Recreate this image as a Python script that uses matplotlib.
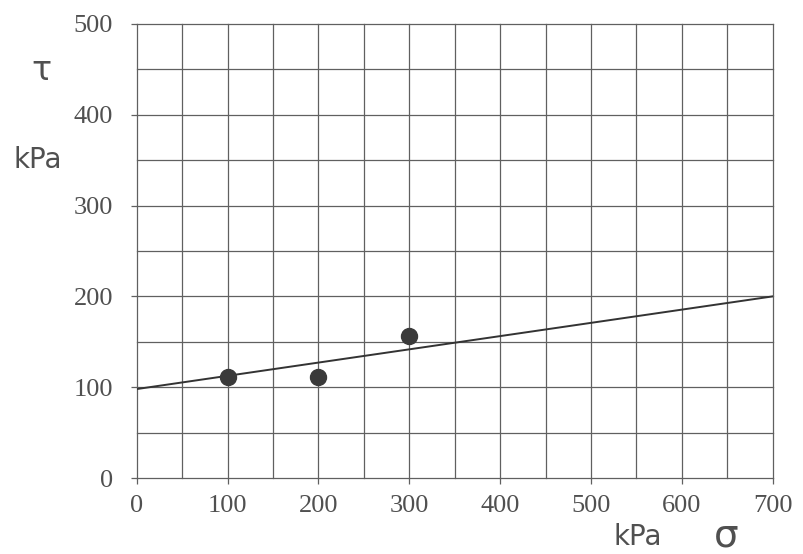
import matplotlib.pyplot as plt

# normal stress sigma (kPa) and measured shear stress tau (kPa)
sigma = [100, 200, 300]
tau = [111, 111, 156]

# failure envelope end points
line_sigma = [0, 700]
line_tau = [98, 200]

x_ticks = [0, 100, 200, 300, 400, 500, 600, 700]
y_ticks = [0, 100, 200, 300, 400, 500]

fig = plt.figure(figsize=(8.04, 5.54), dpi=100)
ax = fig.add_axes([0.170, 0.137, 0.791, 0.820])

ax.set_xlim(0, 700)
ax.set_ylim(0, 500)

# grid every 50 kPa
for gx in range(0, 701, 50):
    ax.axvline(gx, color='#606060', lw=0.9, zorder=1, clip_on=False)
for gy in range(0, 501, 50):
    ax.axhline(gy, color='#606060', lw=0.9, zorder=1, clip_on=False)

for s in ax.spines.values():
    s.set_visible(False)

ax.plot(line_sigma, line_tau, color='#333333', lw=1.4, zorder=2)
ax.plot(sigma, tau, 'o', color='#3a3a3a', markersize=11.5, zorder=3)

ax.set_xticks(x_ticks)
ax.set_yticks(y_ticks)
ax.set_xticklabels([str(t) for t in x_ticks], family='Liberation Serif',
                   fontsize=19, color='#505050')
ax.set_yticklabels([str(t) for t in y_ticks], family='Liberation Serif',
                   fontsize=19, color='#505050')
ax.tick_params(axis='both', length=4, width=0.9, color='#606060')
ax.tick_params(axis='y', pad=13)
ax.tick_params(axis='x', pad=8)

fig.text(0.051, 0.872, '\u03c4', fontsize=24, color='#505050', ha='center', va='center')
fig.text(0.047, 0.712, 'kPa', fontsize=20, color='#505050', ha='center', va='center')
fig.text(0.793, 0.031, 'kPa', fontsize=20, color='#505050', ha='center', va='center')
fig.text(0.903, 0.033, '\u03c3', fontsize=28, color='#505050', ha='center', va='center')

fig.savefig('out.png', dpi=100, facecolor='white')
